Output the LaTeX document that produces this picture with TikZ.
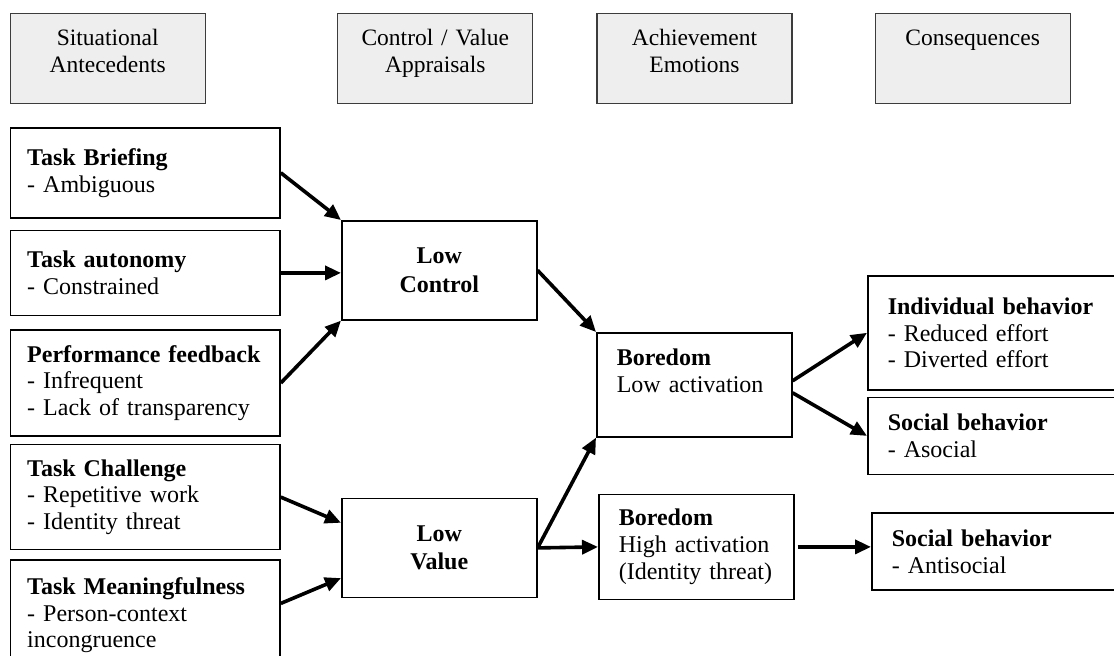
\documentclass[tikz,border=0pt]{standalone}
\usepackage{fontspec}
\setmainfont{Liberation Serif}
\usepackage{tikz}
\usetikzlibrary{positioning,arrows.meta,calc}
\definecolor{hdrgray}{RGB}{238,238,238}
\definecolor{hdrline}{RGB}{60,60,60}
\tikzset{
  hdr/.style ={draw=hdrline, fill=hdrgray, line width=0.6pt, align=center,
               text width=81.5pt, inner xsep=8pt, inner ysep=8pt,
               text height=8pt, text depth=21pt, anchor=north west,
               font=\fontsize{11.75pt}{13.5pt}\selectfont},
  src/.style ={draw, line width=0.8pt, align=left, text width=118pt, inner xsep=8.4pt,
               minimum width=134.75pt, anchor=north west,
               font=\fontsize{12pt}{13.4pt}\selectfont},
  apr/.style ={draw, line width=0.8pt, align=center, minimum width=97.5pt,
               minimum height=49.5pt, anchor=north west,
               font=\fontsize{12pt}{14.2pt}\selectfont\bfseries},
  emo/.style ={draw, line width=0.8pt, align=left, text width=77.5pt, inner xsep=10pt,
               anchor=north west, font=\fontsize{12pt}{13.4pt}\selectfont},
  res/.style ={draw, line width=0.8pt, align=left, text width=111.5pt, inner xsep=10pt,
               anchor=north west, font=\fontsize{12pt}{13.4pt}\selectfont},
  ar/.style  ={-{Triangle[length=8pt,width=7pt]}, line width=1.8pt},
}

\begin{document}
\begin{tikzpicture}[x=0.5pt,y=-0.5pt]
\fill[white, use as bounding box] (0,0) rectangle (1114,655);
\clip (0,0) rectangle (1114,655);

% column headers
\node[hdr] (h1) at (9.6,12.5) {Situational\\Antecedents};
\node[hdr,right=65.7pt of h1] (h2) {Control / Value\\Appraisals};
\node[hdr,right=31.5pt of h2] (h3) {Achievement\\Emotions};
\node[hdr,right=41pt of h3] (h4) {Consequences};

% situational antecedents
\node[src,minimum height=45pt] (tb) at (9.6,127) {\textbf{Task Briefing}\\- Ambiguous};
\node[src,minimum height=42.5pt,below=5.5pt of tb] (ta) {\textbf{Task autonomy}\\- Constrained};
\node[src,minimum height=53pt,below=6.5pt of ta] (pf) {\textbf{Performance feedback}\\- Infrequent\\- Lack of transparency};
\node[src,minimum height=52.5pt,below=3.5pt of pf] (tc) {\textbf{Task Challenge}\\- Repetitive work\\- Identity threat};
\node[src,minimum height=55pt,below=4.5pt of tc] (tm) {\textbf{Task Meaningfulness}\\- Person-context\\incongruence};

% appraisals
\node[apr] (lc) at (341,220) {Low\\Control};
\node[apr,below=88.5pt of lc] (lv) {Low\\Value};

% emotions
\node[emo,text height=8pt,text depth=27pt,inner ysep=8.5pt] (lb) at (596,332) {\textbf{Boredom}\\Low activation};
\node[emo,minimum height=52.5pt,below=28pt of lb,xshift=1pt] (bh) {\textbf{Boredom}\\High activation\\(Identity threat)};

% consequences
\node[res,minimum height=57pt] (ib) at (867,275) {\textbf{Individual behavior}\\- Reduced effort\\- Diverted effort};
\node[res,minimum height=38.5pt,below=3pt of ib] (sb) {\textbf{Social behavior}\\- Asocial};
\node[res,minimum height=38.5pt,below=18.5pt of sb,xshift=2pt] (sa) {\textbf{Social behavior}\\- Antisocial};

\draw[ar] (tb.east) -- (lc.north west);
\draw[ar] (ta.east) -- (ta.east -| lc.west);
\draw[ar] (pf.east) -- (lc.south west);
\draw[ar] (tc.east) -- ($(lv.north west)!0.25!(lv.south west)$);
\draw[ar] ([yshift=-22pt]tm.north east) -- ($(lv.north west)!0.8!(lv.south west)$);
\draw[ar] (lc.east) -- (lb.north west);
\draw[ar] (lv.east) -- (lb.south west);
\draw[ar] (lv.east) -- (bh.west);
\draw[ar] ([yshift=2pt]lb.east) -- (ib.west);
\draw[ar] ([yshift=-4pt]lb.east) -- (sb.west);
\draw[ar] ([xshift=1.5pt]bh.east) -- (bh.east -| sa.west);
\end{tikzpicture}
\end{document}
